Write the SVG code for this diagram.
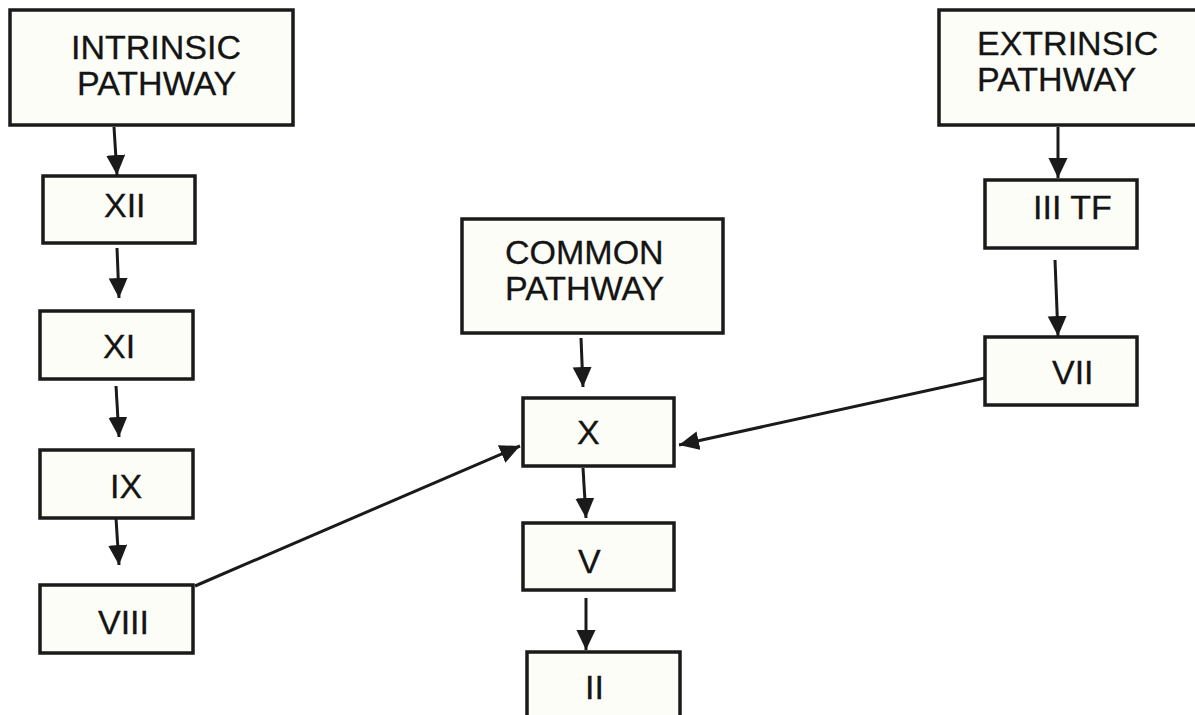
<svg xmlns="http://www.w3.org/2000/svg" width="1195" height="715" viewBox="0 0 1195 715">
<defs>
<style>
.box{fill:#fdfdf7;stroke:#1a1a1a;stroke-width:3.5}
.lbl{font-family:"Liberation Sans",Arial,sans-serif;font-size:34px;fill:#141414;stroke:#141414;stroke-width:0.3}
.conn{stroke:#1a1a1a;stroke-width:3;fill:none;marker-end:url(#ah)}
</style>
<marker id="ah" markerUnits="userSpaceOnUse" markerWidth="22" markerHeight="20" refX="20" refY="9.5" orient="auto">
<path d="M0,0 L20,9.5 L0,19 z" fill="#1a1a1a"/>
</marker>
</defs>
<rect width="1195" height="715" fill="#ffffff"/>
<g id="intrinsic"><rect class="box" x="10" y="10" width="283" height="115"/><text class="lbl" x="71" y="59">INTRINSIC</text><text class="lbl" x="77" y="95">PATHWAY</text></g>
<g id="xii"><rect class="box" x="43" y="176" width="152" height="67"/><text class="lbl" x="104" y="217">XII</text></g>
<g id="xi"><rect class="box" x="40" y="311" width="153" height="68"/><text class="lbl" x="103" y="358">XI</text></g>
<g id="ix"><rect class="box" x="40" y="450" width="153" height="68"/><text class="lbl" x="110" y="498">IX</text></g>
<g id="viii"><rect class="box" x="40" y="585" width="153" height="68"/><text class="lbl" x="98" y="634">VIII</text></g>
<g id="common"><rect class="box" x="462" y="219" width="261" height="114"/><text class="lbl" x="505" y="264">COMMON</text><text class="lbl" x="505" y="300">PATHWAY</text></g>
<g id="x"><rect class="box" x="523" y="398" width="151" height="68"/><text class="lbl" x="577" y="444">X</text></g>
<g id="v"><rect class="box" x="523" y="523" width="151" height="67"/><text class="lbl" x="578" y="573">V</text></g>
<g id="ii"><rect class="box" x="527" y="652" width="153" height="80"/><text class="lbl" x="585" y="699">II</text></g>
<g id="extrinsic"><rect class="box" x="939" y="10" width="270" height="115"/><text class="lbl" x="977" y="55">EXTRINSIC</text><text class="lbl" x="977" y="91">PATHWAY</text></g>
<g id="iiitf"><rect class="box" x="985" y="180" width="152" height="68"/><text class="lbl" x="1033" y="219">III TF</text></g>
<g id="vii"><rect class="box" x="985" y="337" width="152" height="68"/><text class="lbl" x="1052" y="384">VII</text></g>
<g id="connectors">
<line class="conn" x1="114" y1="127" x2="117" y2="175"/>
<line class="conn" x1="117" y1="248" x2="119" y2="298"/>
<line class="conn" x1="116" y1="386" x2="119" y2="437"/>
<line class="conn" x1="116" y1="518" x2="119" y2="565"/>
<line class="conn" x1="195" y1="586" x2="520" y2="446"/>
<line class="conn" x1="581" y1="338" x2="583" y2="387"/>
<line class="conn" x1="583" y1="468" x2="586" y2="518"/>
<line class="conn" x1="586" y1="598" x2="586" y2="650"/>
<line class="conn" x1="1058" y1="127" x2="1058" y2="178"/>
<line class="conn" x1="1055" y1="260" x2="1058" y2="336"/>
<line class="conn" x1="985" y1="378" x2="679" y2="445"/>
</g>
</svg>
